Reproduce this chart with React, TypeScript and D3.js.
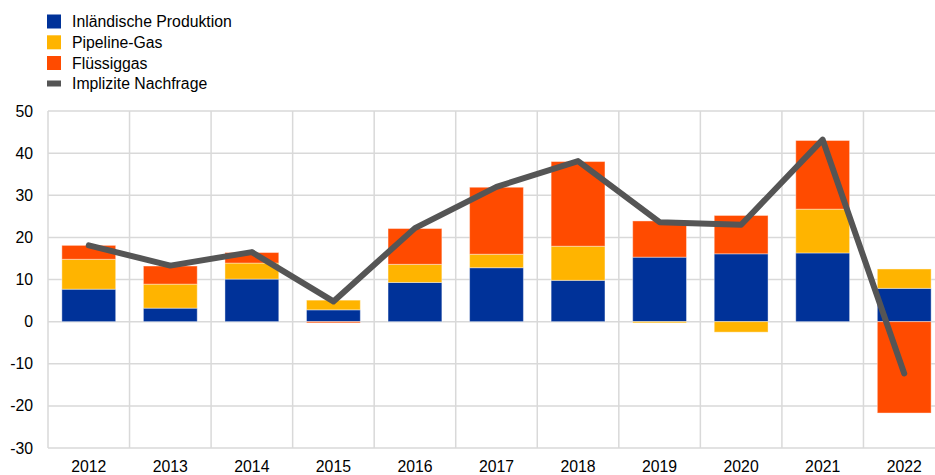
import { useEffect, useRef } from "react";
import * as d3 from "d3";

// data
const years = ["2012", "2013", "2014", "2015", "2016", "2017", "2018", "2019", "2020", "2021", "2022"];
const domestic = [7.7, 3.2, 10.1, 2.8, 9.3, 12.8, 9.8, 15.3, 16.1, 16.3, 7.9];
const pipeline = [7.1, 5.7, 3.8, 2.3, 4.3, 3.2, 8.1, -0.3, -2.5, 10.4, 4.6];
const lng = [3.3, 4.3, 2.5, -0.3, 8.5, 15.9, 20.1, 8.6, 9.1, 16.3, -21.7];
const demand = [18.1, 13.3, 16.5, 4.8, 22.2, 32.0, 38.1, 23.6, 23.0, 43.2, -12.3];

const seriesNames = ["Inländische Produktion", "Pipeline-Gas", "Flüssiggas"];
const seriesColors = ["#003299", "#ffb400", "#ff4b00"];
const lineName = "Implizite Nachfrage";
const lineColor = "#555555";
const yTicks = [50, 40, 30, 20, 10, 0, -10, -20, -30];

const WIDTH = 935;
const HEIGHT = 475;

export default function App() {
  const ref = useRef<SVGSVGElement>(null);

  useEffect(() => {
    const svg = d3.select(ref.current);
    svg.selectAll("*").remove();

    const font = "'Liberation Sans', Arial, sans-serif";
    const fs = "15.8px";
    const x = d3.scaleBand().domain(years).range([48, 945]).padding(0);
    const y = d3.scaleLinear().domain([-30, 50]).range([448, 111]);

    // grid
    const grid = svg.append("g");
    grid
      .selectAll("line.h")
      .data(yTicks)
      .join("line")
      .attr("x1", 48)
      .attr("x2", WIDTH)
      .attr("y1", (d) => y(d))
      .attr("y2", (d) => y(d))
      .attr("stroke", "#d9d9d9")
      .attr("stroke-width", 1.5);
    grid
      .selectAll("line.v")
      .data(years.map((d) => x(d)!).concat([x("2022")! + x.bandwidth()]))
      .join("line")
      .attr("x1", (d) => d)
      .attr("x2", (d) => d)
      .attr("y1", y(50))
      .attr("y2", y(-30))
      .attr("stroke", "#d9d9d9")
      .attr("stroke-width", 1.5);

    // y tick labels
    svg
      .append("g")
      .selectAll("text")
      .data(yTicks)
      .join("text")
      .attr("x", 33)
      .attr("y", (d) => y(d))
      .attr("dy", "0.35em")
      .attr("text-anchor", "end")
      .style("font", `${fs} ${font}`)
      .attr("fill", "#000")
      .text((d) => d);

    // x labels
    svg
      .append("g")
      .selectAll("text")
      .data(years)
      .join("text")
      .attr("x", (d) => x(d)! + x.bandwidth() / 2)
      .attr("y", 472)
      .attr("text-anchor", "middle")
      .style("font", `${fs} ${font}`)
      .attr("fill", "#000")
      .text((d) => d);

    // stacked bars, negatives stack down from zero
    const table = years.map((yr, i) => ({ year: yr, s0: domestic[i], s1: pipeline[i], s2: lng[i] }));
    const stack = d3
      .stack<any>()
      .keys(["s0", "s1", "s2"])
      .offset(d3.stackOffsetDiverging)(table);

    const barW = x.bandwidth() * 0.66;
    svg
      .append("g")
      .selectAll("g")
      .data(stack)
      .join("g")
      .attr("fill", (_, i) => seriesColors[i])
      .selectAll("rect")
      .data((d) => d)
      .join("rect")
      .attr("x", (d) => x(d.data.year)! + (x.bandwidth() - barW) / 2)
      .attr("width", barW)
      .attr("y", (d) => y(Math.max(d[0], d[1])))
      .attr("height", (d) => Math.abs(y(d[0]) - y(d[1])))
      .attr("stroke", "#ffffff")
      .attr("stroke-opacity", 0.4)
      .attr("stroke-width", 1);

    // line
    const line = d3
      .line<number>()
      .x((_, i) => x(years[i])! + x.bandwidth() / 2)
      .y((d) => y(d));
    svg
      .append("path")
      .datum(demand)
      .attr("d", line)
      .attr("fill", "none")
      .attr("stroke", lineColor)
      .attr("stroke-width", 6)
      .attr("stroke-linejoin", "round")
      .attr("stroke-linecap", "round");

    // legend
    const lg = svg.append("g");
    const rowY = [21.5, 42.3, 63, 83.5];
    seriesNames.forEach((name, i) => {
      lg.append("rect")
        .attr("x", 47)
        .attr("y", rowY[i] - 7)
        .attr("width", 14)
        .attr("height", 14)
        .attr("fill", seriesColors[i]);
      lg.append("text")
        .attr("x", 72)
        .attr("y", rowY[i])
        .attr("dy", "0.35em")
        .style("font", `${fs} ${font}`)
        .attr("fill", "#000")
        .text(name);
    });
    lg.append("rect")
      .attr("x", 47)
      .attr("y", rowY[3] - 3)
      .attr("width", 14)
      .attr("height", 6)
      .attr("fill", lineColor);
    lg.append("text")
      .attr("x", 72)
      .attr("y", rowY[3])
      .attr("dy", "0.35em")
      .style("font", `${fs} ${font}`)
      .attr("fill", "#000")
      .text(lineName);
  }, []);

  return (
    <svg
      ref={ref}
      width={WIDTH}
      height={HEIGHT}
      style={{ position: "absolute", left: 0, top: 0, background: "#fff" }}
    ></svg>
  );
}
